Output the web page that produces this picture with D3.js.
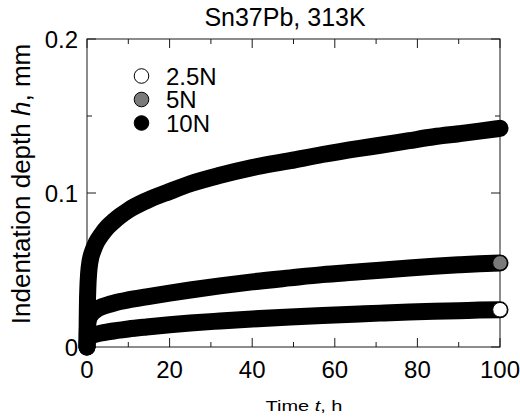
<!DOCTYPE html>
<html>
<head>
<meta charset="utf-8">
<script src="https://cdn.jsdelivr.net/npm/d3@7"></script>
<style>
  html, body { margin: 0; padding: 0; background: #fff; }
  svg { display: block; font-family: "Liberation Sans", Arial, sans-serif; }
</style>
</head>
<body>
<svg id="chart" width="520" height="419"></svg>
<script>
// measurement times (h)
const times = [0, 0.05, 0.1, 0.2, 0.4, 0.7, 1, 1.5, 2.3, 3.5, 5, 6.4, 8, 10, 14.4, 20, 25, 32.2, 40, 49.2, 57, 66, 71, 78, 84, 90, 95, 100];

// indentation depth (mm) per load
const depth25N = [0, 0.003, 0.004, 0.005, 0.006, 0.0068, 0.0073, 0.0078, 0.0084, 0.0091, 0.0098, 0.0104, 0.011, 0.0117, 0.013, 0.0145, 0.0156, 0.0169, 0.0182, 0.0195, 0.0205, 0.0215, 0.022, 0.0227, 0.0232, 0.0236, 0.024, 0.0242];
const depth5N = [0, 0.008, 0.012, 0.015, 0.018, 0.02, 0.0212, 0.0227, 0.0244, 0.026, 0.0273, 0.0284, 0.0295, 0.0306, 0.0326, 0.035, 0.037, 0.0397, 0.0423, 0.0449, 0.047, 0.0488, 0.0499, 0.0513, 0.0524, 0.0534, 0.0541, 0.0546];
const depth10N = [0, 0.018, 0.028, 0.038, 0.048, 0.055, 0.059, 0.063, 0.068, 0.073, 0.078, 0.0815, 0.085, 0.0888, 0.095, 0.101, 0.106, 0.1115, 0.1165, 0.121, 0.125, 0.129, 0.131, 0.134, 0.1365, 0.1385, 0.1402, 0.142];

const loads = ['2.5N', '5N', '10N'];
const fills = ['#ffffff', '#7a7a7a', '#000000'];

const xTicks = [0, 20, 40, 60, 80, 100];
const xMinor = [10, 30, 50, 70, 90];
const yTicks = [0, 0.1, 0.2];
const yMinor = [0.05, 0.15];

const title = 'Sn37Pb, 313K';

const margins = { top: 39, right: 20, bottom: 72, left: 87 };
const width = 520, height = 419;

const svg = d3.select('#chart');

const x = d3.scaleLinear().domain([0, 100]).range([margins.left, width - margins.right]);
const y = d3.scaleLinear().domain([0, 0.2]).range([height - margins.bottom, margins.top]);

const series = [depth25N, depth5N, depth10N].map((vals, i) => ({
    name: loads[i],
    fill: fills[i],
    points: vals.map((v, j) => ({ t: times[j], h: v }))
}));

// frame
svg.append('rect')
    .attr('x', x(0)).attr('y', y(0.2))
    .attr('width', x(100) - x(0)).attr('height', y(0) - y(0.2))
    .attr('fill', 'none').attr('stroke', '#1a1a1a').attr('stroke-width', 1);

// inward ticks on all four sides
const tickG = svg.append('g').attr('stroke', '#1a1a1a').attr('stroke-width', 1);
const major = 9, minor = 5;
xTicks.forEach(t => {
    tickG.append('line').attr('x1', x(t)).attr('x2', x(t)).attr('y1', y(0)).attr('y2', y(0) - major);
    tickG.append('line').attr('x1', x(t)).attr('x2', x(t)).attr('y1', y(0.2)).attr('y2', y(0.2) + major);
});
xMinor.forEach(t => {
    tickG.append('line').attr('x1', x(t)).attr('x2', x(t)).attr('y1', y(0)).attr('y2', y(0) - minor);
    tickG.append('line').attr('x1', x(t)).attr('x2', x(t)).attr('y1', y(0.2)).attr('y2', y(0.2) + minor);
});
yTicks.forEach(v => {
    tickG.append('line').attr('x1', x(0)).attr('x2', x(0) + major).attr('y1', y(v)).attr('y2', y(v));
    tickG.append('line').attr('x1', x(100)).attr('x2', x(100) - major).attr('y1', y(v)).attr('y2', y(v));
});
yMinor.forEach(v => {
    tickG.append('line').attr('x1', x(0)).attr('x2', x(0) + minor).attr('y1', y(v)).attr('y2', y(v));
    tickG.append('line').attr('x1', x(100)).attr('x2', x(100) - minor).attr('y1', y(v)).attr('y2', y(v));
});

// tick labels
svg.append('g').selectAll('text')
    .data(xTicks)
    .enter()
    .append('text')
    .attr('x', d => x(d))
    .attr('y', y(0) + 31)
    .attr('text-anchor', 'middle')
    .attr('font-size', 24)
    .text(d => d);

svg.append('g').selectAll('text')
    .data(yTicks)
    .enter()
    .append('text')
    .attr('x', x(0) - 9)
    .attr('y', d => y(d) + 8.5)
    .attr('text-anchor', 'end')
    .attr('font-size', 24)
    .text(d => d);

// data: the measured points are so dense they read as a solid band
const line = d3.line()
    .x(d => x(d.t))
    .y(d => y(d.h))
    .curve(d3.curveMonotoneX);

const dataG = svg.append('g');
series.forEach(s => {
    dataG.append('path')
        .datum(s.points)
        .attr('d', line)
        .attr('fill', 'none')
        .attr('stroke', '#000')
        .attr('stroke-width', 17)
        .attr('stroke-linecap', 'round')
        .attr('stroke-linejoin', 'round');
});
series.forEach(s => {
    const last = s.points[s.points.length - 1];
    dataG.append('circle')
        .attr('cx', x(last.t))
        .attr('cy', y(last.h))
        .attr('r', 7.3)
        .attr('fill', s.fill)
        .attr('stroke', '#000')
        .attr('stroke-width', 1);
});

// legend
const legend = svg.append('g');
series.forEach((s, i) => {
    const cy = 76 + i * 23.5;
    legend.append('circle')
        .attr('cx', 141.5).attr('cy', cy).attr('r', 7.3)
        .attr('fill', s.fill).attr('stroke', '#000').attr('stroke-width', 1);
    legend.append('text')
        .attr('x', 166).attr('y', cy + 8.5)
        .attr('font-size', 24)
        .text(s.name);
});

// title
svg.append('text')
    .attr('x', 285).attr('y', 26)
    .attr('text-anchor', 'middle')
    .attr('font-size', 25)
    .text(title);

// axis titles
const xl = svg.append('text')
    .attr('x', 304).attr('y', 411)
    .attr('text-anchor', 'middle')
    .attr('font-size', 15)
    .attr('textLength', 77)
    .attr('lengthAdjust', 'spacingAndGlyphs');
xl.append('tspan').text('Time  ');
xl.append('tspan').attr('font-style', 'italic').text('t');
xl.append('tspan').text(', h');

const yl = svg.append('text')
    .attr('transform', 'translate(30,184) rotate(-90)')
    .attr('text-anchor', 'middle')
    .attr('font-size', 26);
yl.append('tspan').text('Indentation depth ');
yl.append('tspan').attr('font-style', 'italic').text('h');
yl.append('tspan').text(', mm');
</script>
</body>
</html>
